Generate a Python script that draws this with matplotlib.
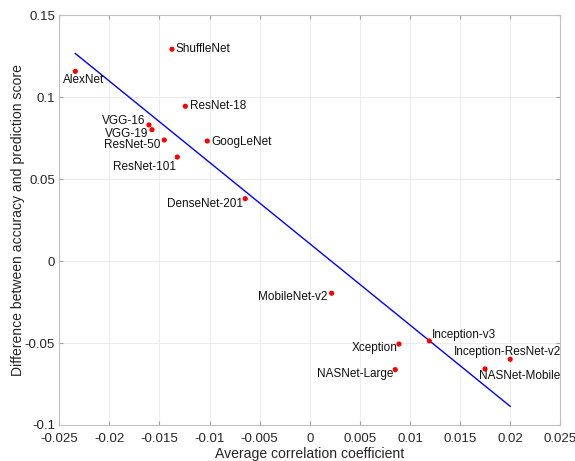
import numpy as np
import matplotlib
matplotlib.use('Agg')
import matplotlib.pyplot as plt

# average correlation coefficient vs (accuracy - prediction score) per network
names = ['AlexNet', 'ShuffleNet', 'ResNet-18', 'VGG-16', 'VGG-19', 'ResNet-50',
         'GoogLeNet', 'ResNet-101', 'DenseNet-201', 'MobileNet-v2', 'Xception',
         'Inception-v3', 'Inception-ResNet-v2', 'NASNet-Mobile', 'NASNet-Large']
corr = [-0.0234, -0.01375, -0.01242, -0.01605, -0.01575, -0.01452,
        -0.01023, -0.01322, -0.00644, 0.00218, 0.0089,
        0.01193, 0.0200, 0.01749, 0.00853]
diff = [0.1158, 0.1293, 0.0945, 0.0831, 0.0802, 0.0739,
        0.0733, 0.0635, 0.0381, -0.0196, -0.0506,
        -0.0487, -0.0599, -0.0658, -0.0662]

# label placement: (dx, dy) in points, horizontal alignment
label_pos = {
    'AlexNet': (6, -6.5, 'center'),
    'ShuffleNet': (2.5, 0, 'left'),
    'ResNet-18': (3.5, 0, 'left'),
    'VGG-16': (-2.5, 3, 'right'),
    'VGG-19': (-2.5, -3, 'right'),
    'ResNet-50': (-2.5, -3.5, 'right'),
    'GoogLeNet': (3, -0.5, 'left'),
    'ResNet-101': (-1, -7, 'right'),
    'DenseNet-201': (-1.5, -4, 'right'),
    'MobileNet-v2': (-3, -3, 'right'),
    'Xception': (-1, -3, 'right'),
    'Inception-v3': (1.5, 4.5, 'left'),
    'Inception-ResNet-v2': (-2, 5, 'center'),
    'NASNet-Mobile': (-4.5, -5, 'left'),
    'NASNet-Large': (-1.5, -3, 'right'),
}

plt.rcParams['font.family'] = ['Liberation Sans', 'DejaVu Sans']

x = np.array(corr)
y = np.array(diff)
k, b = np.polyfit(x, y, 1)
fx = np.array([x.min(), x.max()])
fy = k * fx + b

fig = plt.figure(figsize=(5.75, 4.61), dpi=100)
ax = fig.add_axes([0.1031, 0.0781, 0.8713, 0.8887])

ax.plot(fx, fy, color='#0000ff', linewidth=1.0, zorder=2)
ax.scatter(x, y, s=14, color='#ff0000', edgecolors='none', zorder=3)

for n, xi, yi in zip(names, corr, diff):
    dx, dy, ha = label_pos[n]
    ax.annotate(n, (xi, yi), xytext=(dx, dy), textcoords='offset points',
                ha=ha, va='center', fontsize=8.5, color='#111111')

ax.set_xlim(-0.025, 0.025)
ax.set_ylim(-0.1, 0.15)
ax.set_xticks(np.arange(-0.025, 0.0251, 0.005))
ax.set_xticklabels(['-0.025', '-0.02', '-0.015', '-0.01', '-0.005', '0',
                    '0.005', '0.01', '0.015', '0.02', '0.025'])
ax.set_yticks([-0.1, -0.05, 0, 0.05, 0.1, 0.15])
ax.set_yticklabels(['-0.1', '-0.05', '0', '0.05', '0.1', '0.15'])

ax.grid(True, color='#ececec', linewidth=0.7)
ax.set_axisbelow(True)
for s in ax.spines.values():
    s.set_color('#c0c0c0')
    s.set_linewidth(0.8)
ax.tick_params(direction='in', top=True, right=True, length=3,
               color='#a0a0a0', labelsize=9.5, labelcolor='#262626', pad=3)
ax.tick_params(axis='x', pad=6)

ax.set_xlabel('Average correlation coefficient', fontsize=10.1, color='#262626', labelpad=1)
ax.set_ylabel('Difference between accuracy and prediction score', fontsize=10.1,
              color='#262626', labelpad=0)

fig.savefig('out.png', dpi=100)
